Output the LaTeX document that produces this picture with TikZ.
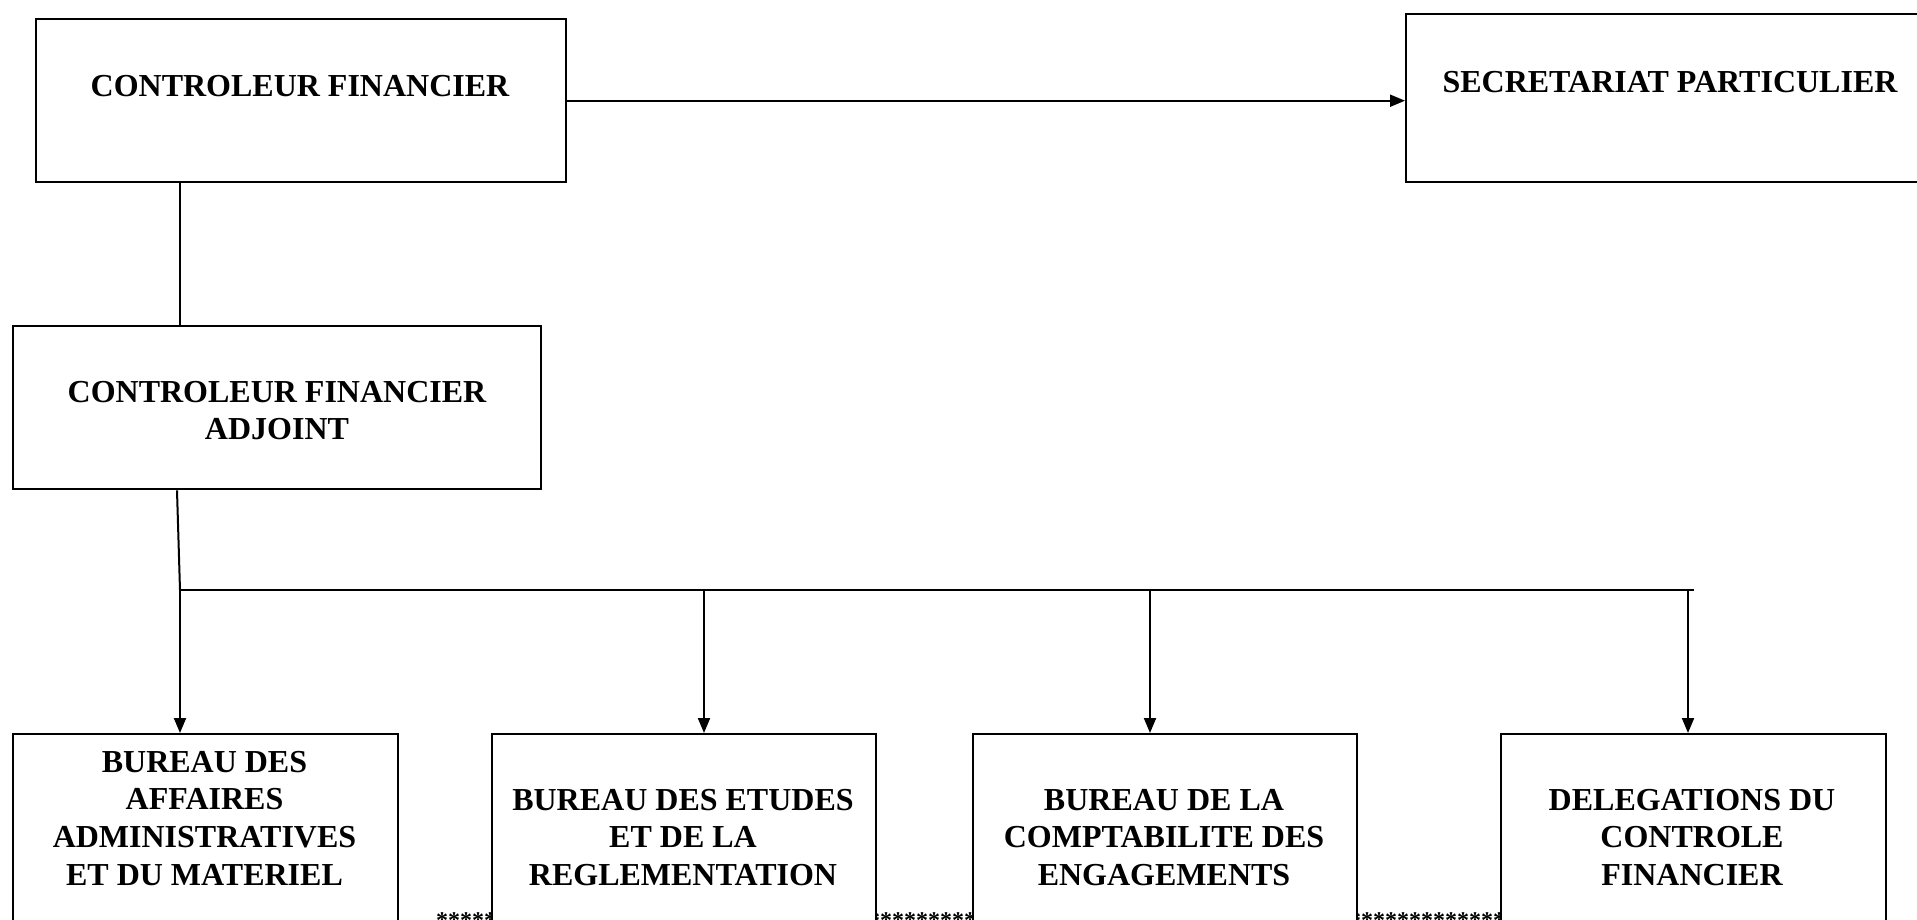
\documentclass[tikz,border=0pt]{standalone}
\usepackage{fontspec}
\setmainfont{Liberation Serif}
\usetikzlibrary{arrows.meta,calc}
\tikzset{
  orgbox/.style={draw=black, line width=2.4pt, fill=white, rectangle, inner sep=0pt, anchor=north west},
  lbl/.style={inner sep=0pt, anchor=base, font=\fontsize{32pt}{37.7pt}\selectfont\bfseries},
  stars/.style={inner sep=0pt, anchor=base west, font=\fontsize{24pt}{28pt}\selectfont\bfseries},
  conn/.style={draw=black, line width=2pt},
  arr/.style={conn, -{Triangle[length=15pt,width=12pt]}},
}
\begin{document}
\begin{tikzpicture}[x=1pt,y=-1pt]
\useasboundingbox (0,0) rectangle (1917,920);
\clip (0,0) rectangle (1917,920);
\fill[white] (0,0) rectangle (1917,920);

% asterisk rows (partly hidden behind the boxes)
\node[stars] (s1) at (436,928) {*****};
\node[stars] (s2) at (868,928) {*********};
\node[stars] (s3) at (1349,928) {*************};

% top boxes
\node[orgbox, minimum width=530pt, minimum height=163pt] (cf) at (35,18) {};
\node[lbl] (cft) at (300,97) {CONTROLEUR FINANCIER};
\node[orgbox, minimum width=530pt, minimum height=168pt] (sp) at (1405,13) {};
\node[lbl] (spt) at (1670,93) {SECRETARIAT PARTICULIER};
\node[orgbox, minimum width=528pt, minimum height=163pt] (cfa) at (12,325) {};
\node[lbl] (cfat) at (277,402) {\begin{tabular}[t]{@{}c@{}}CONTROLEUR FINANCIER\\ADJOINT\end{tabular}};

% bottom boxes
\node[orgbox, minimum width=385pt, minimum height=240pt] (b1) at (12,733) {};
\node[orgbox, minimum width=384pt, minimum height=240pt] (b2) at (491,733) {};
\node[orgbox, minimum width=384pt, minimum height=240pt] (b3) at (972,733) {};
\node[orgbox, minimum width=385pt, minimum height=240pt] (b4) at (1500,733) {};
\node[lbl] (b1t) at (204.5,772) {\begin{tabular}[t]{@{}c@{}}BUREAU DES\\AFFAIRES\\ADMINISTRATIVES\\ET DU MATERIEL\end{tabular}};
\node[lbl] (b2t) at (683,810) {\begin{tabular}[t]{@{}c@{}}BUREAU DES ETUDES\\ET DE LA\\REGLEMENTATION\end{tabular}};
\node[lbl] (b3t) at (1164,810) {\begin{tabular}[t]{@{}c@{}}BUREAU DE LA\\COMPTABILITE DES\\ENGAGEMENTS\end{tabular}};
\node[lbl] (b4t) at (1692,810) {\begin{tabular}[t]{@{}c@{}}DELEGATIONS DU\\CONTROLE\\FINANCIER\end{tabular}};

% bus coordinates
\coordinate (j1) at (180,590);
\coordinate (j2) at (704,590);
\coordinate (j3) at (1150,590);
\coordinate (j4) at (1688,590);
\coordinate (jend) at (1694,590);

% connectors
\draw[arr] (cf.east) -- (cf.east -| sp.west);
\draw[conn] (cf.south -| j1) -- (cfa.north -| j1);
\draw[conn] ([xshift=165pt]cfa.south west) -- (j1);
\draw[conn] (j1) -- (jend);
\draw[arr] (j1) -- (j1 |- b1.north);
\draw[arr] (j2) -- (j2 |- b2.north);
\draw[arr] (j3) -- (j3 |- b3.north);
\draw[arr] (j4) -- (j4 |- b4.north);
\end{tikzpicture}
\end{document}
